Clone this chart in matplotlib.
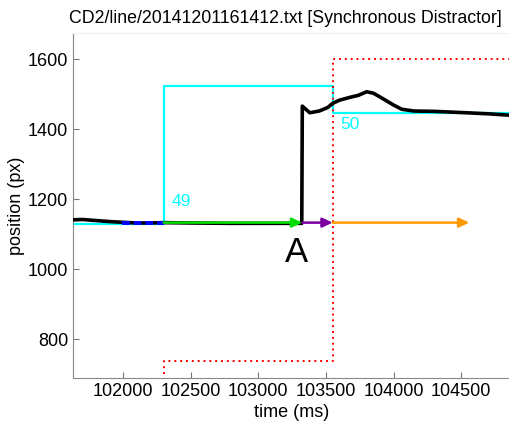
import numpy as np
import matplotlib.pyplot as plt

plt.rcParams['font.family'] = ['Liberation Sans', 'DejaVu Sans']

# cursor trajectory (time ms, position px)
cursor_t = [101630, 101700, 101800, 101900, 102000, 102100, 102200, 102300, 102500,
            102800, 103000, 103200, 103321, 103325, 103380, 103450, 103513, 103549,
            103600, 103676, 103740, 103800, 103850, 103900, 104000, 104060, 104150,
            104300, 104540, 104700, 104860]
cursor_pos = [1141, 1142, 1139, 1136, 1134, 1132, 1132, 1133, 1132,
              1131, 1131, 1131, 1131, 1466, 1447, 1452, 1462, 1474,
              1483, 1491, 1497, 1507, 1503, 1492, 1469, 1457, 1452,
              1451, 1447, 1444, 1440]

# target step (cyan)
target_t = [101630, 102300, 102300, 103550, 103550, 104860]
target_pos = [1130, 1130, 1523, 1523, 1446, 1446]

# distractor (red dotted)
distr_t = [102300, 102300, 103550, 103550, 104860]
distr_pos = [600, 737, 737, 1600, 1600]

# pre-movement segment (blue dashed)
pre_t = [101995, 102300]
pre_pos = [1132, 1132]

# phase arrows: start, end, colour
arrow_y = 1133
phases = [(102300, 103325, '#00dd00'),
          (103325, 103550, '#7a00a0'),
          (103550, 104560, '#ff9900')]

labels = [('49', 102359, 1194, 'cyan', 12.5),
          ('50', 103609, 1413, 'cyan', 12.5),
          ('A', 103200, 1048, 'black', 25)]

fig = plt.figure(figsize=(5.1, 4.23), dpi=100)
ax = fig.add_axes([0.1431, 0.1064, 0.8569, 0.8156])

ax.plot(target_t, target_pos, color='cyan', linewidth=1.6, zorder=2)
ax.plot(distr_t, distr_pos, color='red', linewidth=1.4, linestyle=(0, (1, 2)), zorder=2)
ax.plot(cursor_t, cursor_pos, color='black', linewidth=2.6, zorder=3)
ax.plot(pre_t, pre_pos, color='blue', linewidth=2.8, linestyle=(0, (2, 1)), zorder=4)

for t0, t1, c in phases:
    ax.annotate('', xy=(t1, arrow_y), xytext=(t0, arrow_y),
                arrowprops=dict(arrowstyle='-|>,head_length=0.6,head_width=0.28',
                                color=c, lw=1.8, shrinkA=0, shrinkB=0), zorder=5)

for txt, x, y, c, fs in labels:
    ax.text(x, y, txt, color=c, fontsize=fs, ha='left', va='center')

ax.set_xlim(101630, 104860)
ax.set_ylim(689, 1675)
ax.set_xticks([102000, 102500, 103000, 103500, 104000, 104500])
ax.set_yticks([800, 1000, 1200, 1400, 1600])
ax.tick_params(direction='in', length=4, color='#777777', labelsize=13)
for s in ['left', 'bottom']:
    ax.spines[s].set_color('#888888')
ax.spines['top'].set_color('#eeeeee')
ax.spines['right'].set_visible(False)

ax.set_xlabel('time (ms)', fontsize=13, labelpad=3)
ax.set_ylabel('position (px)', fontsize=13, labelpad=2)
ax.set_title('CD2/line/20141201161412.txt [Synchronous Distractor]', fontsize=12.8, pad=7, x=0.485)

fig.savefig('out.png', dpi=100)
